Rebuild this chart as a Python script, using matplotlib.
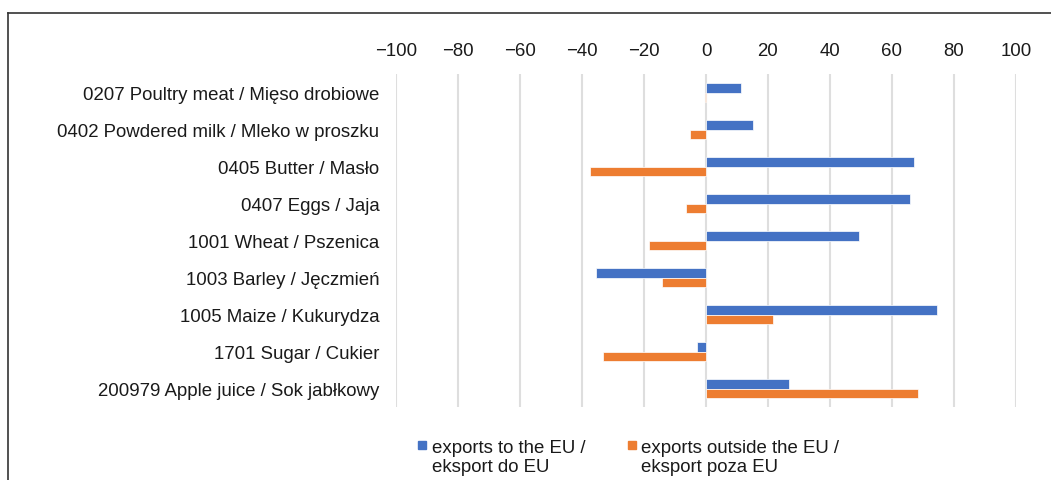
import numpy as np
import matplotlib.pyplot as plt
from matplotlib.patches import Rectangle
from matplotlib.lines import Line2D

plt.rcParams['font.family'] = ['Liberation Sans', 'DejaVu Sans']

categories = [
    "0207 Poultry meat / Mięso drobiowe",
    "0402 Powdered milk / Mleko w proszku",
    "0405 Butter / Masło",
    "0407 Eggs / Jaja",
    "1001 Wheat / Pszenica",
    "1003 Barley / Jęczmień",
    "1005 Maize / Kukurydza",
    "1701 Sugar / Cukier",
    "200979 Apple juice / Sok jabłkowy",
]
to_eu = [11.3, 15.0, 67.1, 65.8, 49.2, -35.4, 74.4, -2.9, 26.9]
outside_eu = [-0.3, -5.3, -37.4, -6.5, -18.3, -14.3, 21.6, -33.3, 68.5]
xticks = list(range(-100, 101, 20))
legend_labels = ["exports to the EU /\neksport do EU", "exports outside the EU /\neksport poza EU"]

blue = "#4472C4"
orange = "#ED7D31"
W, H = 1051, 481

fig = plt.figure(figsize=(W / 100, H / 100), dpi=100)
ax = fig.add_axes([396 / W, 1 - 408 / H, 620 / W, 333 / H])

y = np.arange(len(categories))
h = 0.25
ax.barh(y - h / 2, to_eu, height=h, color=blue, edgecolor="white", linewidth=0.5, zorder=3)
ax.barh(y + h / 2, outside_eu, height=h, color=orange, edgecolor="white", linewidth=0.5, zorder=3)

ax.set_xlim(-100, 100)
ax.set_ylim(len(categories) - 0.5, -0.5)
ax.set_xticks(xticks)
ax.set_xticklabels([f"\u2212{abs(t)}" if t < 0 else str(t) for t in xticks])
ax.xaxis.tick_top()
ax.set_yticks(y)
ax.set_yticklabels(categories)
ax.tick_params(axis="both", length=0, labelsize=13.4, colors="#1a1a1a")
ax.tick_params(axis="x", pad=11)
ax.tick_params(axis="y", pad=12)
ax.grid(axis="x", color="#dedede", linewidth=1.5, zorder=0)
for s in ax.spines.values():
    s.set_visible(False)

# legend drawn by hand so the square sits on the first text line
for (sx, tx), col, lab in zip([(418, 432), (628, 641)], [blue, orange], legend_labels):
    fig.add_artist(Rectangle((sx / W, 1 - 450 / H), 8 / W, 8 / H, color=col,
                             transform=fig.transFigure))
    fig.text(tx / W, 1 - 440 / H, lab, fontsize=13.4, color="#1a1a1a",
             va="top", ha="left", linespacing=1.15)

# frame of the original figure box (top and left edges visible)
fig.add_artist(Line2D([8 / W, 1], [1 - 14 / H, 1 - 14 / H], color="#333333", linewidth=1.2))
fig.add_artist(Line2D([8 / W, 8 / W], [0, 1 - 14 / H], color="#333333", linewidth=1.2))

fig.savefig("out.png", dpi=100)
